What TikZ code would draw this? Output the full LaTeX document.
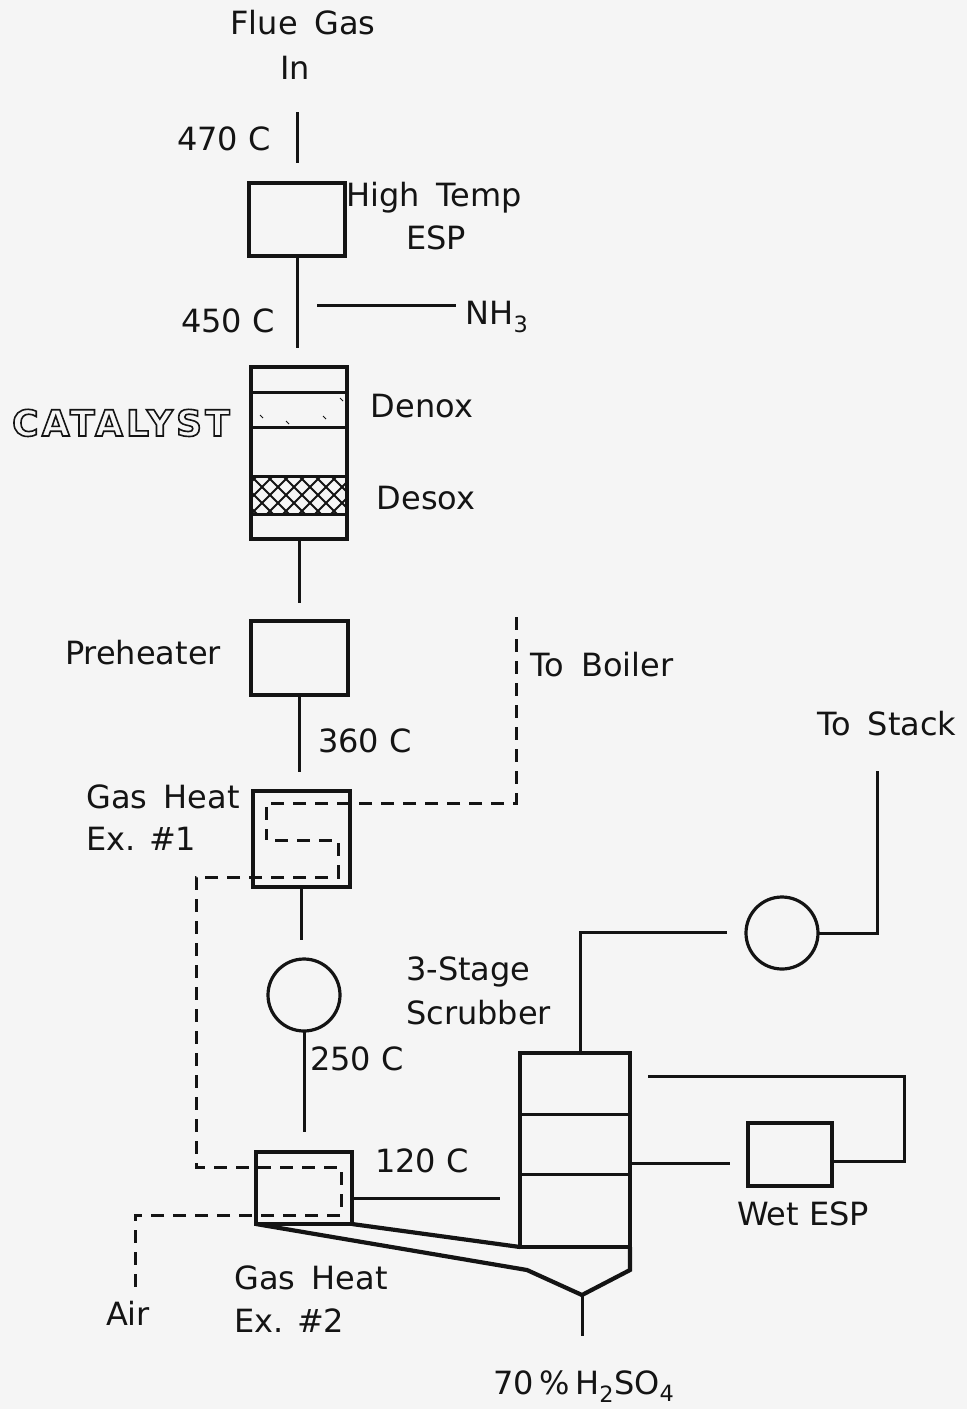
\documentclass[tikz,border=0pt]{standalone}
\usepackage{fontspec}
\setmainfont{DejaVu Sans}
\newfontfamily\hollowfont[LetterSpace=9]{DejaVu Sans Bold}
\newcommand{\wsp}{\hspace{0.52em}}
\newcommand{\hollow}[1]{\special{pdf:literal 1 Tr 1.6 w}#1\special{pdf:literal 0 Tr}}
\definecolor{ink}{HTML}{141414}
\definecolor{paper}{HTML}{F5F5F5}
\tikzset{
  x=1pt,y=-1pt,
  lab/.style={inner sep=0pt,text=ink,font=\fontsize{32}{32}\selectfont,anchor=base},
  labl/.style={lab,anchor=base west},
  vessel/.style={draw=ink,line width=3.2pt,inner sep=0pt,outer sep=0pt,anchor=north west},
  pipe/.style={draw=ink,line width=3pt},
  heavy/.style={draw=ink,line width=4.2pt,line join=miter},
  hatch/.style={draw=ink,line width=1.8pt},
  coil/.style={draw=ink,line width=3pt,dash pattern=on 13pt off 9pt},
  fan/.style={circle,draw=ink,line width=3.2pt,minimum size=72pt,inner sep=0pt,outer sep=0pt},
}
\begin{document}
\begin{tikzpicture}
\useasboundingbox[fill=paper] (0,0) rectangle (967,1409);
% vessels
\node[vessel,minimum width=96pt,minimum height=73pt] (esp) at (249,183) {};
\node[vessel,minimum width=96pt,minimum height=172pt] (reactor) at (251,367) {};
\node[vessel,minimum width=97pt,minimum height=74pt] (pre) at (251,621) {};
\node[vessel,minimum width=97pt,minimum height=96pt] (ghea) at (253,791) {};
\node[vessel,minimum width=96pt,minimum height=72pt] (gheb) at (256,1152) {};
\node[vessel,minimum width=110pt,minimum height=194pt] (scrub) at (520,1053) {};
\node[vessel,minimum width=84pt,minimum height=63pt] (wesp) at (748,1123) {};
\node[fan] (fana) at (304,995) {};
\node[fan] (fanb) at (782,933) {};
% reactor beds
\begin{scope}
\clip (251,476) rectangle (347,514);
\foreach \k in {-3,...,7}{
  \draw[hatch] (251+\k*16,476) -- ++(38,38);
  \draw[hatch] (251+\k*16,514) -- ++(38,-38);
}
\end{scope}
\draw[pipe] (251,392) -- (347,392);
\draw[pipe] (251,427) -- (347,427);
\draw[pipe] (251,476) -- (347,476);
\draw[pipe] (251,514) -- (347,514);
\foreach \a/\b in {260/415,286/421,323/416,340/398}
  \draw[ink,line width=1pt] (\a,\b) -- ++(3,3);
% scrubber stages
\draw[pipe] (520,1114) -- (630,1114);
\draw[pipe] (520,1174) -- (630,1174);
% free ends
\coordinate (flueend) at (297,112);
\coordinate (fluein) at (297,163);
\coordinate (rin) at (297,348);
\coordinate (nha) at (317,305);
\coordinate (nhb) at (456,305);
\coordinate (rout) at (299,603);
\coordinate (pout) at (299.5,772);
\coordinate (gaout) at (301.5,940);
\coordinate (fout) at (304,1132);
\coordinate (sctop) at (580,1053);
\coordinate (sca) at (580,932);
\coordinate (scb) at (727,932);
\coordinate (fanc) at (877,933);
\coordinate (stack) at (877,771);
\coordinate (toesp) at (648,1076);
\coordinate (rta) at (904,1076);
\coordinate (rtb) at (904,1161);
\coordinate (scc) at (730,1163);
\coordinate (gbend) at (500,1198);
\coordinate (hopl) at (527,1270);
\coordinate (hopb) at (582,1295);
\coordinate (hopr) at (630,1270);
\coordinate (drain) at (582,1336);
\coordinate (boil) at (516,617);
\coordinate (ba) at (516,803);
\coordinate (bb) at (266,803);
\coordinate (bc) at (266,840);
\coordinate (bc2) at (275,840);
\coordinate (bd) at (338,840);
\coordinate (be) at (338,877);
\coordinate (bf) at (196,877);
\coordinate (bg) at (196,1167);
\coordinate (bh) at (341,1167);
\coordinate (bi) at (341,1215);
\coordinate (bj) at (135,1215);
\coordinate (air) at (135,1295);
% connectors
\draw[pipe] (flueend) -- (fluein);
\draw[pipe] (esp.south) -- (rin);
\draw[pipe] (nha) -- (nhb);
\draw[pipe] (reactor.south) -- (rout);
\draw[pipe] (pre.south) -- (pout);
\draw[pipe] (ghea.south) -- (gaout);
\draw[pipe] (fana.south) -- (fout);
\draw[pipe] (sctop) -- (sca) -- (scb);
\draw[pipe] (fanb.east) -- (fanc) -- (stack);
\draw[pipe] (toesp) -- (rta) -- (rtb) -- (wesp.east |- rtb);
\draw[pipe] (scrub.east |- scc) -- (scc);
\draw[pipe] (gheb.east |- gbend) -- (gbend);
\draw[heavy] (gheb.south east) -- (scrub.south west);
\draw[heavy] (gheb.south west) -- (hopl) -- (hopb) -- (hopr) -- (scrub.south east);
\draw[pipe] (hopb) -- (drain);
\draw[coil] (boil) -- (ba) -- (bb) -- (bc);
\draw[coil] (bc2) -- (bd) -- (be) -- (bf) -- (bg) -- (bh) -- (bi) -- (bj) -- (air);
% labels
\node[lab] (t1) at (303,34) {Flue\wsp Gas};
\node[lab] (t2) at (295,79) {In};
\node[lab] (t3) at (224,150) {470 C};
\node[lab] (t4) at (434,206) {High\wsp Temp};
\node[lab] (t5) at (436,249) {ESP};
\node[lab] (t6) at (228,332) {450 C};
\node[lab] (t7) at (497,324) {NH\textsubscript{3}};
\node[lab,font=\fontsize{36}{36}\hollowfont] (t8) at (121,436) {\hollow{CATALYST}};
\node[lab] (t9) at (422,417) {Denox};
\node[lab] (t10) at (426,509) {Desox};
\node[lab] (t11) at (143,664) {Preheater};
\node[lab] (t12) at (602,676) {To\wsp Boiler};
\node[lab] (t13) at (887,735) {To\wsp Stack};
\node[lab] (t14) at (365,752) {360 C};
\node[labl] (t15) at (86,808) {Gas\wsp Heat};
\node[labl] (t16) at (86,850) {Ex. \#1};
\node[labl] (t17) at (406,980) {3-Stage};
\node[labl] (t18) at (406,1024) {Scrubber};
\node[lab] (t19) at (357,1070) {250 C};
\node[lab] (t20) at (422,1172) {120 C};
\node[lab] (t21) at (803,1225) {Wet ESP};
\node[labl] (t22) at (234,1289) {Gas\wsp Heat};
\node[labl] (t23) at (234,1332) {Ex. \#2};
\node[lab] (t24) at (128,1325) {Air};
\node[lab] (t25) at (584,1394) {70\,\%\,H\textsubscript{2}SO\textsubscript{4}};
\end{tikzpicture}
\end{document}
